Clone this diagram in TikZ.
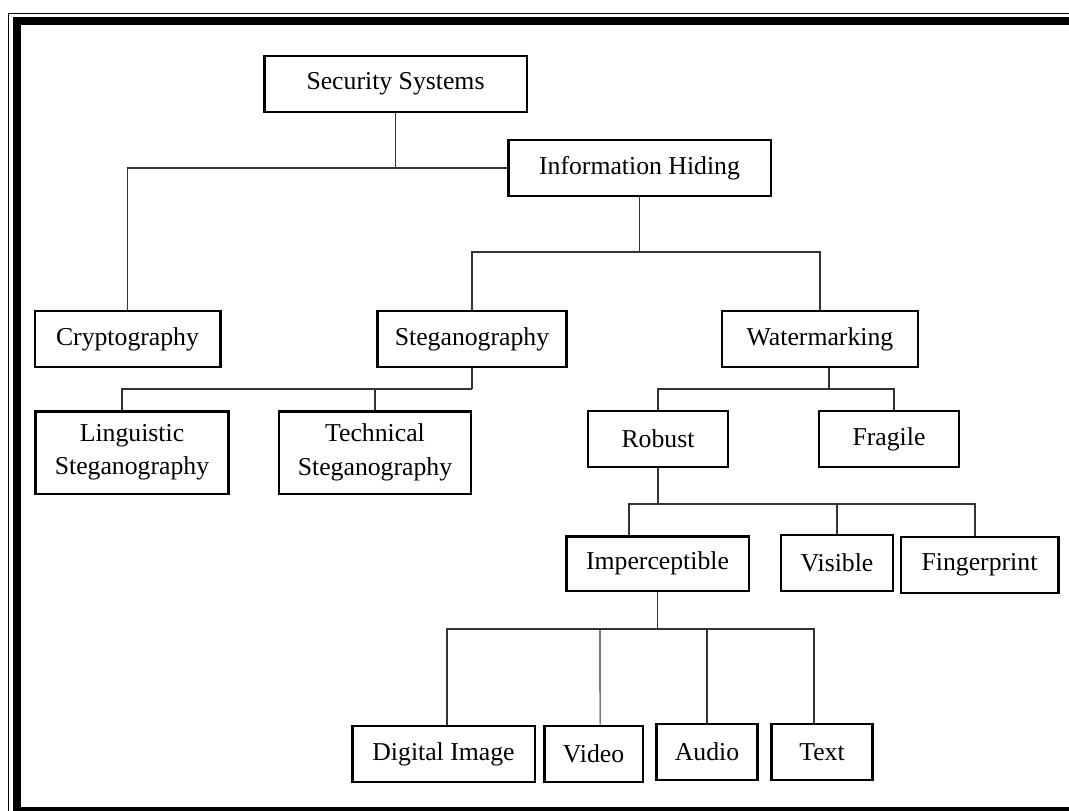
\documentclass[tikz,border=0pt]{standalone}
\usepackage{fontspec}
\setmainfont{Liberation Serif}
\begin{document}
\begin{tikzpicture}[x=0.75pt, y=-0.75pt,
    every node/.style={draw, line width=2pt, inner sep=0pt, minimum height=42pt, align=center, font=\fontsize{19.3}{25}\selectfont},
    link/.style={draw=black!80, line width=0.8pt}]
    
    \useasboundingbox (0,0) rectangle (1069,810);
    \clip (0,0) rectangle (1069,810);
    
    % Page frame: thin outer line, thick inner line (runs off the right and bottom)
    \draw[line width=1.1pt] (8.5,13.5) rectangle (1120,830);
    \draw[line width=6pt] (16.5,21) rectangle (1100,811);
    
    % Top of the tree
    \node[minimum width=197pt] (SS) at (395.5,84)  {Security Systems};
    \node[minimum width=197pt] (IH) at (639.5,168) {Information Hiding};
    
    % Second level
    \node[minimum width=139pt] (CR) at (127.5,339) {Cryptography};
    \node[minimum width=142pt] (ST) at (472,339)   {Steganography};
    \node[minimum width=147pt] (WM) at (820,339)   {Watermarking};
    
    % Kinds of steganography
    \node[minimum width=145pt, minimum height=62pt] (LS) at (132,452.5) {Linguistic\\Steganography};
    \node[minimum width=144pt, minimum height=62pt] (TS) at (375,452.5) {Technical\\Steganography};
    
    % Kinds of watermarking
    \node[minimum width=105pt] (RB) at (658,439) {Robust};
    \node[minimum width=105pt] (FR) at (889,439) {Fragile};
    
    \node[minimum width=137pt, minimum height=41pt] (IM) at (657.5,563.5) {Imperceptible};
    \node[minimum width=84pt]  (VS) at (837,563)   {Visible};
    \node[minimum width=118pt] (FP) at (979.5,565) {Fingerprint};
    
    % Media
    \node[minimum width=137pt] (DI) at (443.5,754) {Digital Image};
    \node[minimum width=74pt]  (VD) at (593.5,754) {Video};
    \node[minimum width=76pt]  (AU) at (707,752)   {Audio};
    \node[minimum width=76pt]  (TX) at (822,752)   {Text};
    
    % Connectors
    \coordinate (j1) at (395.5,168);
    \draw[link] (SS.south) -- (j1);
    \draw[link] (CR.north) |- (IH.west);
    
    \coordinate (j2) at (639.5,252);
    \draw[link] (IH.south) -- (j2);
    \draw[link] (ST.north) |- (j2) -| (WM.north);
    
    \coordinate (j3) at (472,389);
    \draw[link] (ST.south) -- (j3);
    \draw[link] ([xshift=-7.5pt]LS.north) |- (j3);
    \draw[link] (TS.north) -- (TS.north |- j3);
    
    \coordinate (j4) at (829,389);
    \draw[link] ([xshift=6.75pt]WM.south) -- (j4);
    \draw[link] (RB.north) |- (j4) -| ([xshift=3.75pt]FR.north);
    
    \coordinate (j5) at (658,504);
    \draw[link] (RB.south) -- (j5);
    \draw[link] ([xshift=-21.4pt]IM.north) |- (j5) -| ([xshift=-3.4pt]FP.north);
    \draw[link] (VS.north) -- (VS.north |- j5);
    
    \coordinate (j6) at (657.5,629);
    \coordinate (j7) at (600,629);
    \draw[link] (IM.south) -- (j6);
    \draw[link] ([xshift=2.6pt]DI.north) |- (j6) -| ([xshift=-6pt]TX.north);
    \draw[link] ([xshift=4.9pt]VD.north) -- (j7);
    \draw[link] (AU.north) -- (AU.north |- j6);
    
\end{tikzpicture}
\end{document}
